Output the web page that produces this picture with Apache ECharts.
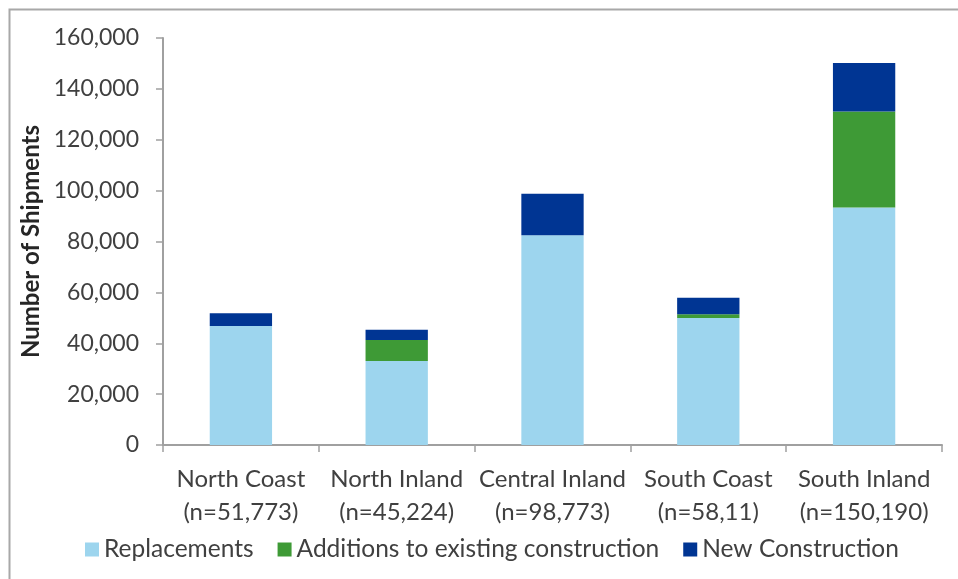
<!DOCTYPE html>
<html>
<head>
<meta charset="utf-8">
<script src="https://cdn.jsdelivr.net/npm/echarts@6/dist/echarts.min.js"></script>
<style>
  html, body { margin: 0; padding: 0; background: #ffffff; }
  #chart { width: 958px; height: 579px; }
</style>
</head>
<body>
<div id="chart"></div>
<script>
// Regions and their shipment totals (n)
const regions = ['North Coast', 'North Inland', 'Central Inland', 'South Coast', 'South Inland'];
const regionCounts = ['51,773', '45,224', '98,773', '58,11', '150,190'];

// Shipments by construction type
const replacements = [46800, 33000, 82500, 49900, 93400];
const additions = [0, 8300, 0, 1500, 37700];
const newConstruction = [5000, 4000, 16300, 6500, 19100];

// Y axis
const yMin = 0;
const yMax = 160000;
const yStep = 20000;

const categoryLabels = regions.map((r, i) => r + '\n(n=' + regionCounts[i] + ')');

const FONT = 'Lato, "Liberation Sans", sans-serif';
const TEXT = '#404040';
const AXIS = '#a0a0a0';

const chart = echarts.init(document.getElementById('chart'), null, { renderer: 'canvas' });

chart.setOption({
  backgroundColor: '#ffffff',
  animation: false,
  graphic: [{
    type: 'rect',
    left: 7, top: 7,
    shape: { x: 0, y: 0, width: 2000, height: 2000 },
    style: { fill: 'none', stroke: '#a8a8a8', lineWidth: 2 },
    silent: true
  }],
  grid: { left: 163, right: 16, top: 38, bottom: 134, containLabel: false },
  legend: {
    left: 80, top: 532,
    icon: 'rect',
    itemWidth: 14, itemHeight: 14, itemGap: 24,
    textStyle: { fontFamily: FONT, fontSize: 24.5, color: TEXT },
    data: ['Replacements', 'Additions to existing construction', 'New Construction']
  },
  xAxis: {
    type: 'category',
    data: categoryLabels,
    axisLine: { lineStyle: { color: AXIS, width: 2 } },
    axisTick: { show: true, length: 7, lineStyle: { color: AXIS, width: 1.5 } },
    axisLabel: {
      fontFamily: FONT, fontSize: 24, color: TEXT,
      lineHeight: 33, margin: 18, interval: 0
    }
  },
  yAxis: {
    type: 'value',
    min: yMin, max: yMax, interval: yStep,
    name: 'Number of Shipments',
    nameLocation: 'middle',
    nameGap: 120,
    nameTextStyle: { fontFamily: FONT, fontSize: 24, fontWeight: 'bold', color: '#262626' },
    axisLine: { show: true, lineStyle: { color: AXIS, width: 2 } },
    axisTick: { show: true, length: 7, lineStyle: { color: AXIS, width: 1.5 } },
    splitLine: { show: false },
    axisLabel: {
      fontFamily: FONT, fontSize: 23, color: TEXT, margin: 24,
      formatter: (v) => v.toLocaleString('en-US')
    }
  },
  series: [
    { name: 'Replacements', type: 'bar', stack: 'total', data: replacements,
      barWidth: '40%', itemStyle: { color: '#9dd5ee' } },
    { name: 'Additions to existing construction', type: 'bar', stack: 'total', data: additions,
      barWidth: '40%', itemStyle: { color: '#3e9a36' } },
    { name: 'New Construction', type: 'bar', stack: 'total', data: newConstruction,
      barWidth: '40%', itemStyle: { color: '#003593' } }
  ]
});
</script>
</body>
</html>
